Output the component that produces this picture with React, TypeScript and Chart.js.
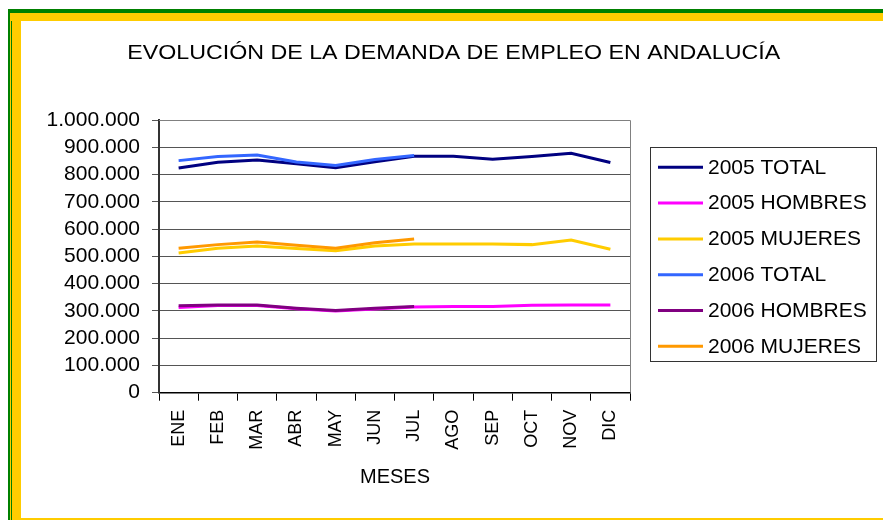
import React, { useEffect, useRef } from "react";
import { Chart, registerables } from "chart.js";

Chart.register(...registerables);

const chartTitle = "EVOLUCIÓN DE LA DEMANDA DE EMPLEO EN ANDALUCÍA";
const xAxisTitle = "MESES";
const months = ["ENE", "FEB", "MAR", "ABR", "MAY", "JUN", "JUL", "AGO", "SEP", "OCT", "NOV", "DIC"];

const total2005 = [824000, 845000, 853000, 840000, 825000, 847000, 867000, 867000, 856000, 866000, 878000, 844000];
const hombres2005 = [312000, 320000, 320000, 308000, 300000, 307000, 314000, 316000, 316000, 321000, 322000, 322000];
const mujeres2005 = [512000, 530000, 538000, 529000, 521000, 538000, 545000, 545000, 545000, 543000, 560000, 526000];
const total2006 = [851000, 866000, 872000, 846000, 833000, 855000, 870000];
const hombres2006 = [319000, 322000, 322000, 310000, 301000, 310000, 316000];
const mujeres2006 = [530000, 543000, 553000, 541000, 530000, 550000, 564000];

const seriesNames = ["2005 TOTAL", "2005 HOMBRES", "2005 MUJERES", "2006 TOTAL", "2006 HOMBRES", "2006 MUJERES"];
const seriesColors = ["#000080", "#FF00FF", "#FFCC00", "#3366FF", "#800080", "#FF9900"];
const seriesData = [total2005, hombres2005, mujeres2005, total2006, hombres2006, mujeres2006];

const FONT = '"Liberation Sans", Arial, sans-serif';

function fmt(v: number): string {
  return String(Math.round(v)).replace(/\B(?=(\d{3})+(?!\d))/g, ".");
}

const decor = {
  id: "decor",
  afterDraw(chart: any) {
    const ctx = chart.ctx;
    const a = chart.chartArea;
    ctx.save();
    ctx.strokeStyle = "#808080";
    ctx.lineWidth = 1;
    ctx.beginPath();
    ctx.moveTo(a.left, a.top + 0.5);
    ctx.lineTo(a.right + 0.5, a.top + 0.5);
    ctx.lineTo(a.right + 0.5, a.bottom);
    ctx.stroke();

    ctx.fillStyle = "#000";
    ctx.font = `20px ${FONT}`;
    ctx.textBaseline = "alphabetic";
    ctx.textAlign = "center";
    const w = ctx.measureText(chartTitle).width;
    const sx = 653 / w;
    ctx.save();
    ctx.translate(453.7, 59);
    ctx.scale(sx, 1);
    ctx.fillText(chartTitle, 0, 0);
    ctx.restore();

    ctx.font = `20px ${FONT}`;
    ctx.fillText(xAxisTitle, 395, 483);

    ctx.strokeStyle = "#333";
    ctx.lineWidth = 1;
    ctx.strokeRect(650.5, 147.5, 226, 214);
    ctx.textAlign = "left";
    ctx.textBaseline = "middle";
    ctx.font = `21px ${FONT}`;
    seriesNames.forEach((name, i) => {
      const y = 167.3 + i * 35.8;
      ctx.strokeStyle = seriesColors[i];
      ctx.lineWidth = 3;
      ctx.beginPath();
      ctx.moveTo(658, y);
      ctx.lineTo(703, y);
      ctx.stroke();
      ctx.fillStyle = "#000";
      ctx.fillText(name, 708, y + 0.5);
    });
    ctx.restore();
  },
};

export default function App() {
  const ref = useRef<HTMLCanvasElement | null>(null);

  useEffect(() => {
    if (!ref.current) return;
    const chart = new Chart(ref.current, {
      type: "line",
      data: {
        labels: months,
        datasets: seriesData.map((d, i) => ({
          label: seriesNames[i],
          data: d,
          borderColor: seriesColors[i],
          backgroundColor: seriesColors[i],
          borderWidth: 3,
          pointRadius: 0,
          tension: 0,
          fill: false,
          order: i < 3 ? 1 : 0,
        })),
      },
      options: {
        animation: false,
        responsive: false,
        devicePixelRatio: 1,
        layout: { padding: { left: 0, top: 120, right: 253, bottom: 0 } },
        plugins: {
          legend: { display: false },
          title: { display: false },
          tooltip: { enabled: false },
        },
        scales: {
          x: {
            type: "category",
            offset: true,
            grid: {
              offset: true,
              drawOnChartArea: false,
              drawTicks: true,
              tickLength: 8,
              color: "#000",
            },
            border: { color: "#000", width: 1.5 },
            ticks: {
              minRotation: 90,
              maxRotation: 90,
              autoSkip: false,
              padding: 9,
              color: "#000",
              font: { family: FONT, size: 18 },
            },
            afterFit(s: any) {
              s.height = 127.3;
            },
          },
          y: {
            min: 0,
            max: 1000000,
            ticks: {
              stepSize: 100000,
              autoSkip: false,
              padding: 12,
              color: "#000",
              font: { family: FONT, size: 21 },
              callback: (v: any) => fmt(Number(v)),
            },
            grid: {
              color: "#555",
              tickLength: 7,
              drawTicks: true,
            },
            border: { color: "#333", width: 2 },
            afterFit(s: any) {
              s.width = 159;
            },
          },
        },
      },
      plugins: [decor],
    } as any);
    return () => chart.destroy();
  }, []);

  const frame = (l: number, t: number, w: number, h: number, c: string) => (
    <div style={{ position: "absolute", left: l, top: t, width: w, height: h, background: c }} />
  );

  return (
    <div style={{ position: "fixed", left: 0, top: 0, width: 883, height: 520, background: "#fff", overflow: "hidden" }}>
      {frame(8, 9, 875, 4, "#008000")}
      {frame(8, 9, 4, 511, "#008000")}
      {frame(10, 13, 1, 507, "#FFCC00")}
      {frame(11, 13, 872, 8, "#FFCC00")}
      {frame(12, 13, 9, 507, "#FFCC00")}
      {frame(21, 518, 862, 2, "#FFCC00")}
      <canvas ref={ref} width={883} height={520} style={{ position: "absolute", left: 0, top: 0, width: 883, height: 520 }} />
    </div>
  );
}
